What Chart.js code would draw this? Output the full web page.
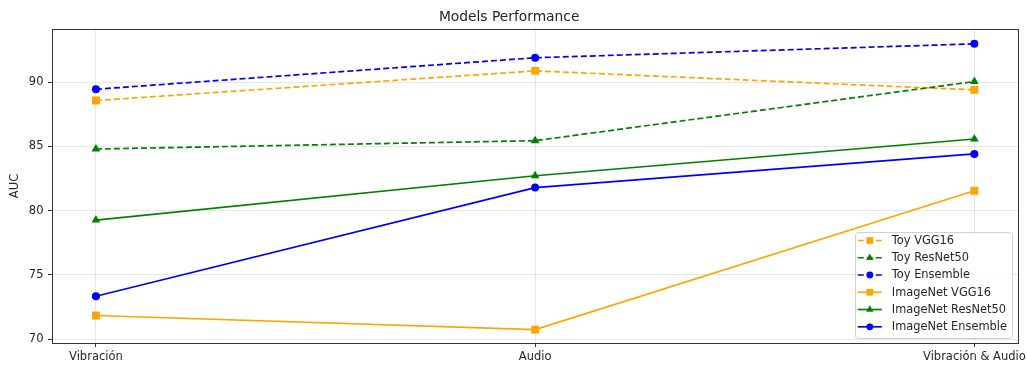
<!DOCTYPE html>
<html>
<head>
<meta charset="utf-8">
<script src="https://cdn.jsdelivr.net/npm/chart.js@4/dist/chart.umd.min.js"></script>
<style>
  html, body { margin: 0; padding: 0; background: #fff; }
  #wrap { width: 1027px; height: 365px; position: relative; }
</style>
</head>
<body>
<div id="wrap"><canvas id="c" width="1027" height="365"></canvas></div>
<script>
// Input types on the x axis
const categories = ['Vibración', 'Audio', 'Vibración & Audio'];

// AUC per model
const toyVgg16 = [88.57, 90.88, 89.40];
const toyResnet50 = [84.80, 85.45, 90.05];
const toyEnsemble = [89.45, 91.90, 92.98];
const imagenetVgg16 = [71.85, 70.75, 81.55];
const imagenetResnet50 = [79.27, 82.72, 85.58];
const imagenetEnsemble = [73.35, 81.80, 84.42];

const yTicks = [70, 75, 80, 85, 90];

const ORANGE = '#ffa500', GREEN = '#008000', BLUE = '#0000ff';
const FONT = 'DejaVu Sans';
const TEXT = '#262626';

function series(label, values, color, shape, dashed, idx) {
  const isRect = shape === 'rect', isTri = shape === 'triangle';
  return {
    label,
    data: values.map((v, i) => ({ x: i, y: v })),
    borderColor: color,
    backgroundColor: color,
    borderWidth: 1.7,
    borderDash: dashed ? [6, 3] : [],
    pointStyle: shape,
    pointRadius: isRect ? 5.6 : (isTri ? 5 : 4),
    pointBorderWidth: 0,
    pointBackgroundColor: color,
    tension: 0,
    order: 10 - idx
  };
}

const datasets = [
  series('Toy VGG16', toyVgg16, ORANGE, 'rect', true, 0),
  series('Toy ResNet50', toyResnet50, GREEN, 'triangle', true, 1),
  series('Toy Ensemble', toyEnsemble, BLUE, 'circle', true, 2),
  series('ImageNet VGG16', imagenetVgg16, ORANGE, 'rect', false, 3),
  series('ImageNet ResNet50', imagenetResnet50, GREEN, 'triangle', false, 4),
  series('ImageNet Ensemble', imagenetEnsemble, BLUE, 'circle', false, 5)
];

// Frame around the plotting area
const frame = {
  id: 'frame',
  afterDatasetsDraw(chart) {
    const { ctx, chartArea: a } = chart;
    ctx.save();
    ctx.strokeStyle = '#333';
    ctx.lineWidth = 1;
    ctx.strokeRect(Math.round(a.left) + 0.5, Math.round(a.top) + 0.5,
                   Math.round(a.right - a.left), Math.round(a.bottom - a.top));
    ctx.restore();
  }
};

// Legend box in the lower right of the plotting area
const cornerLegend = {
  id: 'cornerLegend',
  afterDraw(chart) {
    const { ctx, chartArea: a } = chart;
    const sets = chart.data.datasets;
    const boxW = 157, rowH = 17.26, boxH = 106;
    const x0 = a.right - 6.5 - boxW, y0 = a.bottom - 5.5 - boxH;
    ctx.save();
    ctx.fillStyle = 'rgba(255,255,255,0.85)';
    ctx.strokeStyle = '#d0d0d0';
    ctx.lineWidth = 1;
    ctx.beginPath();
    ctx.roundRect(Math.round(x0) + 0.5, Math.round(y0) + 0.5, boxW, boxH, 3);
    ctx.fill();
    ctx.stroke();
    ctx.font = '11.4px "' + FONT + '"';
    ctx.textBaseline = 'middle';
    sets.forEach((ds, i) => {
      const cy = y0 + 9 + rowH * i;
      const lx0 = x0 + 3, lx1 = x0 + 27;
      ctx.strokeStyle = ds.borderColor;
      ctx.lineWidth = ds.borderWidth;
      ctx.setLineDash(ds.borderDash);
      ctx.beginPath();
      ctx.moveTo(lx0, cy);
      ctx.lineTo(lx1, cy);
      ctx.stroke();
      ctx.setLineDash([]);
      ctx.fillStyle = ds.borderColor;
      Chart.helpers.drawPoint(ctx, {
        pointStyle: ds.pointStyle, radius: ds.pointRadius * 0.85, rotation: 0, borderWidth: 0
      }, (lx0 + lx1) / 2, cy);
      ctx.fillStyle = TEXT;
      ctx.textAlign = 'left';
      ctx.fillText(ds.label, x0 + 37, cy + 0.5);
    });
    ctx.restore();
  }
};

new Chart(document.getElementById('c'), {
  type: 'line',
  data: { datasets },
  plugins: [frame, cornerLegend],
  options: {
    responsive: false,
    animation: false,
    layout: { padding: { left: 0, right: 8.7, top: 0, bottom: 0 } },
    plugins: {
      legend: { display: false },
      tooltip: { enabled: false },
      title: {
        display: true,
        text: 'Models Performance',
        color: TEXT,
        font: { family: FONT, size: 13.8, weight: 'normal' },
        padding: { top: 9, bottom: 3.4 }
      }
    },
    scales: {
      x: {
        type: 'linear',
        min: -0.1,
        max: 2.1,
        afterBuildTicks(scale) { scale.ticks = categories.map((_, i) => ({ value: i })); },
        afterFit(scale) {
          scale.height = 22;
          // the last label may run past the plot edge, as long as it fits the canvas
          scale.paddingLeft = 0;
          scale.paddingRight = 0;
        },
        ticks: {
          callback: v => categories[v],
          color: TEXT,
          font: { family: FONT, size: 11.5 },
          padding: 2.8,
          maxRotation: 0,
          autoSkip: false
        },
        grid: { color: 'rgba(176,176,176,0.3)', tickColor: '#333', tickLength: 4 },
        border: { display: false }
      },
      y: {
        type: 'linear',
        min: 69.71,
        max: 94.14,
        afterBuildTicks(scale) { scale.ticks = yTicks.map(v => ({ value: v })); },
        afterFit(scale) { scale.width = 52; },
        ticks: {
          color: TEXT,
          font: { family: FONT, size: 11.5 },
          padding: 4.5
        },
        grid: { color: 'rgba(176,176,176,0.3)', tickColor: '#333', tickLength: 4 },
        border: { display: false },
        title: {
          display: true,
          text: 'AUC',
          color: TEXT,
          font: { family: FONT, size: 11.5 },
          padding: { top: 8.1, bottom: 0 }
        }
      }
    }
  }
});
</script>
</body>
</html>
